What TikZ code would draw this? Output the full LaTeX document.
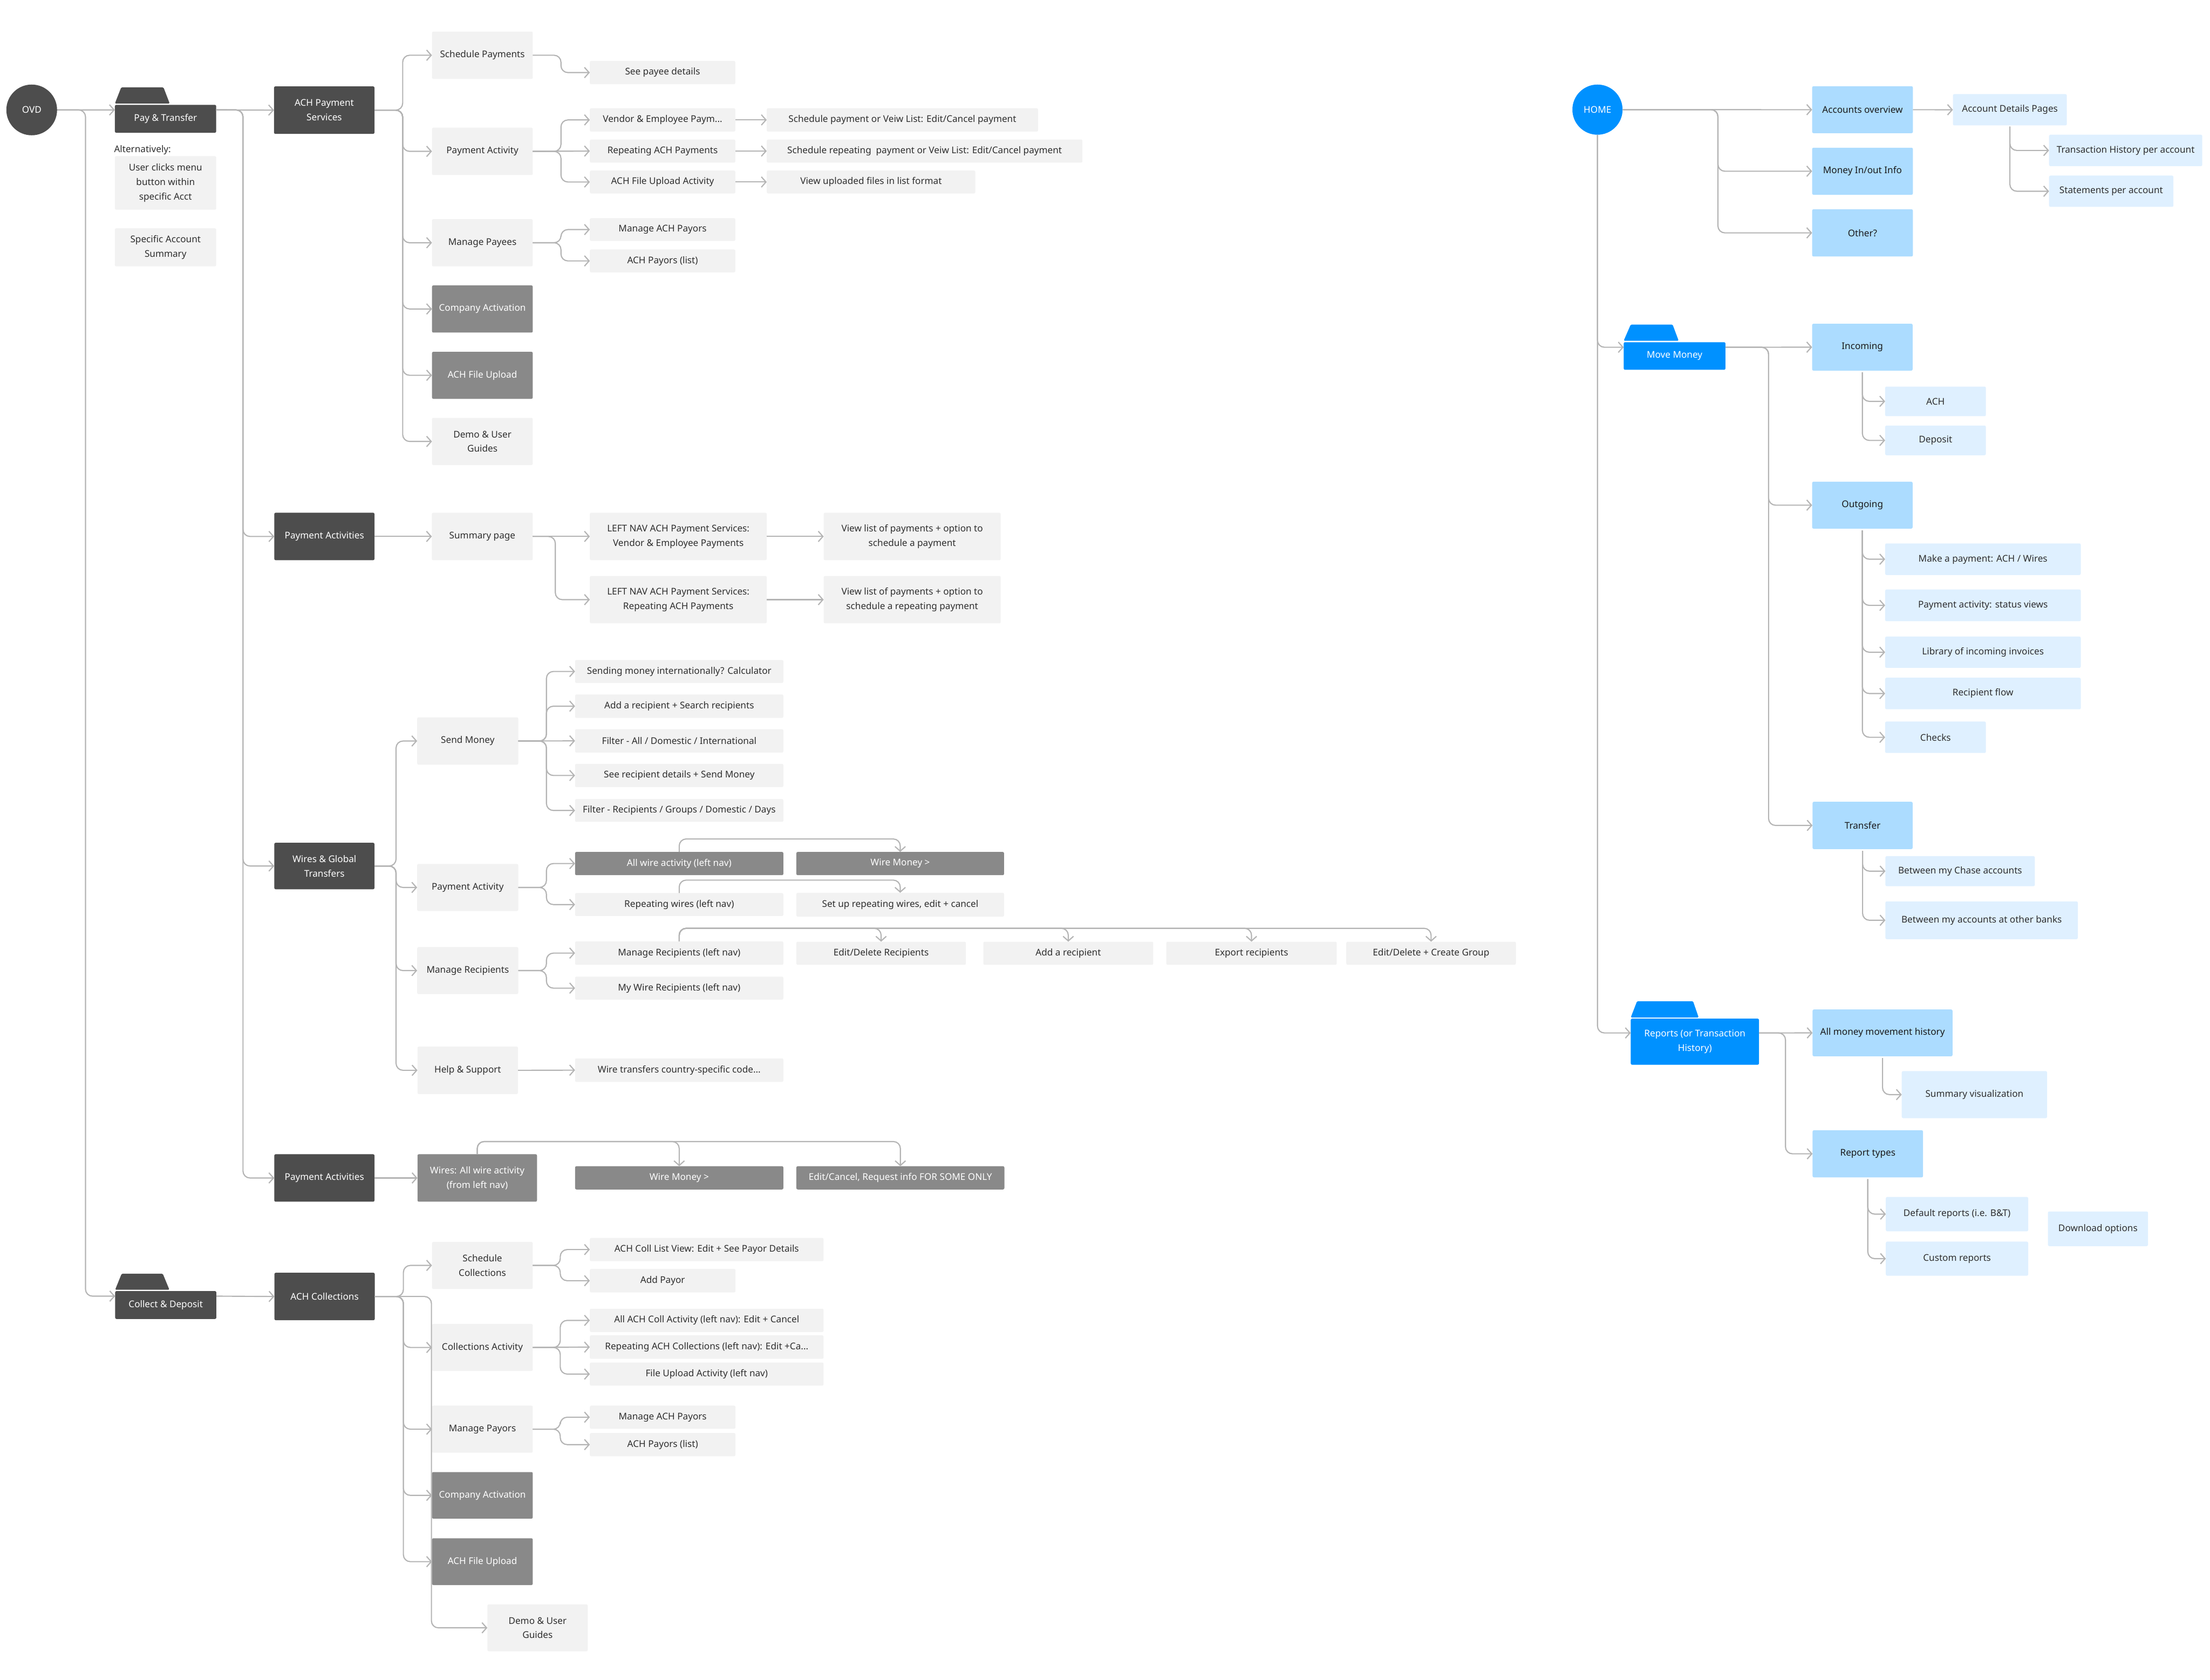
\documentclass[tikz,border=0pt]{standalone}
\usepackage{fontspec}
\setmainfont{Noto Sans}
\usetikzlibrary{arrows.meta,calc}
\definecolor{dk}{HTML}{4D4D4D}
\definecolor{md}{HTML}{898989}
\definecolor{lg}{HTML}{F2F2F2}
\definecolor{tx}{HTML}{2E2E2E}
\definecolor{ln}{HTML}{B4B4B4}
\definecolor{bl}{HTML}{0091FF}
\definecolor{bla}{HTML}{ACDCFF}
\definecolor{blb}{HTML}{DFF0FF}
\newcommand\mybox[7]{\node[#2,minimum width={(#5-#3)*0.042838cm},minimum height={(#6-#4)*0.042838cm}] (#1) at ({(#3+#5)/2},{(#4+#6)/2}) {#7};}
\tikzset{
  base/.style={inner sep=0pt,outer sep=0pt,align=center,anchor=center,rounded corners=1.2pt},
  lbox/.style={base,fill=lg,text=tx},
  dbox/.style={base,fill=dk,text=white},
  mbox/.style={base,fill=md,text=white},
  bbox/.style={base,fill=bla,text=black!90},
  cbox/.style={base,fill=blb,text=tx},
  fbox/.style={base,fill=bl,text=white},
  conn/.style={draw=ln,line width=1pt,rounded corners=6pt,-{Straight Barb[length=4pt,width=9pt]}},
}
\begin{document}
\begin{tikzpicture}[x=0.042838cm,y=-0.042838cm,font=\fontsize{8}{12.5}\selectfont]
\useasboundingbox (0,0) rectangle (1568,1192);
\fill[white] (0,0) rectangle (1568,1192);

% ---------------- left: OVD ----------------
\node[circle,fill=dk,text=white,inner sep=0pt,minimum size={36*0.042838cm}] (ovd) at (22.5,78) {OVD};
\fill[dk,rounded corners=0.8pt] (81.5,73.5) -- (86,62) -- (116,62) -- (120.4,73.5) -- cycle;
\mybox{pt}{dbox}{81.5}{74.4}{153.4}{94.2}{Pay \& Transfer}
\node[anchor=west,inner sep=0pt,text=tx] (alt) at (80.8,106.3) {Alternatively:};
\mybox{ucm}{lbox}{81.5}{110.8}{153.4}{148.8}{User clicks menu\\button within\\specific Acct}
\mybox{sas}{lbox}{81.5}{162}{153.4}{189}{Specific Account\\Summary}

\mybox{achps}{dbox}{194.4}{61.3}{265.7}{95}{ACH Payment\\Services}
\mybox{sp}{lbox}{306.5}{22.4}{378}{56}{Schedule Payments}
\mybox{spd}{lbox}{418.5}{43.2}{521.7}{59.8}{See payee details}
\mybox{pa}{lbox}{306.5}{90.6}{378}{124.2}{Payment Activity}
\mybox{vep}{lbox}{418.5}{76.8}{521.7}{93.4}{Vendor \& Employee Paym...}
\mybox{rap}{lbox}{418.5}{99}{521.7}{115.4}{Repeating ACH Payments}
\mybox{afua}{lbox}{418.5}{121}{521.7}{137.3}{ACH File Upload Activity}
\mybox{spv}{lbox}{544}{76.8}{736.5}{93.4}{Schedule payment or Veiw List: Edit/Cancel payment}
\mybox{srp}{lbox}{544}{99}{768}{115.4}{Schedule repeating\ \ payment or Veiw List: Edit/Cancel payment}
\mybox{vuf}{lbox}{544}{121}{692}{137.3}{View uploaded files in list format}
\mybox{mpy}{lbox}{306.5}{155.5}{378}{189}{Manage Payees}
\mybox{mach}{lbox}{418.5}{154.8}{521.7}{171}{Manage ACH Payors}
\mybox{achl}{lbox}{418.5}{177}{521.7}{193.3}{ACH Payors (list)}
\mybox{ca1}{mbox}{306.5}{202.5}{378}{236}{Company Activation}
\mybox{afu1}{mbox}{306.5}{249.6}{378}{283}{ACH File Upload}
\mybox{dug1}{lbox}{306.5}{296.5}{378}{330}{Demo \& User\\Guides}

\mybox{pa1}{dbox}{194.6}{363.8}{265.7}{397.5}{Payment Activities}
\mybox{smp}{lbox}{306.4}{363.8}{378}{397.5}{Summary page}
\mybox{lnv}{lbox}{418.5}{363.8}{544}{397.5}{LEFT NAV ACH Payment Services:\\Vendor \& Employee Payments}
\mybox{vlp}{lbox}{584.4}{363.8}{710}{397.5}{View list of payments + option to\\schedule a payment}
\mybox{lnr}{lbox}{418.5}{408.7}{544}{442.3}{LEFT NAV ACH Payment Services:\\Repeating ACH Payments}
\mybox{vlr}{lbox}{584.4}{408.7}{710}{442.3}{View list of payments + option to\\schedule a repeating payment}

\mybox{wgt}{dbox}{194.6}{598}{265.7}{631}{Wires \& Global\\Transfers}
\mybox{sm}{lbox}{296}{509}{367.7}{542.6}{Send Money}
\mybox{s1}{lbox}{408}{468.3}{555.8}{484.6}{Sending money internationally? Calculator}
\mybox{s2}{lbox}{408}{492.8}{555.8}{509.4}{Add a recipient + Search recipients}
\mybox{s3}{lbox}{408}{517.4}{555.8}{534}{Filter - All / Domestic / International}
\mybox{s4}{lbox}{408}{542}{555.8}{558.5}{See recipient details + Send Money}
\mybox{s5}{lbox}{408}{567}{555.8}{583.2}{Filter - Recipients / Groups / Domestic / Days}
\mybox{pwa}{lbox}{296}{613}{367.7}{646.4}{Payment Activity}
\mybox{awa}{mbox}{408}{604.5}{555.8}{621}{All wire activity (left nav)}
\mybox{wm1}{mbox}{565}{604.5}{712.4}{621}{Wire Money >}
\mybox{rw}{lbox}{408}{633.7}{555.8}{650}{Repeating wires (left nav)}
\mybox{surw}{lbox}{565}{633.5}{712.4}{650.4}{Set up repeating wires, edit + cancel}
\mybox{mr}{lbox}{296}{672}{367.7}{705.4}{Manage Recipients}
\mybox{mrl}{lbox}{408}{668}{555.8}{684.6}{Manage Recipients (left nav)}
\mybox{mwr}{lbox}{408}{693}{555.8}{709.3}{My Wire Recipients (left nav)}
\mybox{edr}{lbox}{565}{668.2}{685.3}{684.6}{Edit/Delete Recipients}
\mybox{aar}{lbox}{697.7}{668.2}{818.2}{684.6}{Add a recipient}
\mybox{exr}{lbox}{827.5}{668.2}{948.4}{684.6}{Export recipients}
\mybox{edg}{lbox}{955.2}{668.2}{1075.5}{684.6}{Edit/Delete + Create Group}
\mybox{hs}{lbox}{296.2}{742.6}{367.5}{776.3}{Help \& Support}
\mybox{wtc}{lbox}{408}{751}{555.8}{767.7}{Wire transfers country-specific code...}

\mybox{pa2}{dbox}{194.6}{819}{265.7}{852.7}{Payment Activities}
\mybox{wall}{mbox}{296.2}{819}{381}{852.7}{Wires: All wire activity\\(from left nav)}
\mybox{wm2}{mbox}{408}{827.5}{555.8}{844}{Wire Money >}
\mybox{ecr}{mbox}{565}{827.5}{712.6}{844}{Edit/Cancel, Request info FOR SOME ONLY}

\fill[dk,rounded corners=0.8pt] (81.7,915.2) -- (86.3,903.8) -- (115.5,903.8) -- (120.2,915.2) -- cycle;
\mybox{cd}{dbox}{81.7}{916.1}{153.5}{935.9}{Collect \& Deposit}
\mybox{achc}{dbox}{194.7}{903.1}{265.9}{936.8}{ACH Collections}
\mybox{sc}{lbox}{306.5}{881.2}{378}{914.6}{Schedule\\Collections}
\mybox{acl}{lbox}{418.5}{878.4}{584.3}{894.9}{ACH Coll List View: Edit + See Payor Details}
\mybox{ap}{lbox}{418.5}{900.4}{521.8}{917.1}{Add Payor}
\mybox{cact}{lbox}{306.5}{939.4}{378}{972.8}{Collections Activity}
\mybox{aca}{lbox}{418.5}{928.6}{584.3}{945.2}{All ACH Coll Activity (left nav): Edit + Cancel}
\mybox{rac}{lbox}{418.5}{947.5}{584.3}{964.2}{Repeating ACH Collections (left nav): Edit +Ca...}
\mybox{fua}{lbox}{418.5}{966.8}{584.3}{983.2}{File Upload Activity (left nav)}
\mybox{mpo}{lbox}{306.5}{997.4}{378}{1030.8}{Manage Payors}
\mybox{mach2}{lbox}{418.5}{997.4}{521.8}{1013.8}{Manage ACH Payors}
\mybox{achl2}{lbox}{418.5}{1016.8}{521.8}{1033.3}{ACH Payors (list)}
\mybox{ca2}{mbox}{306.5}{1044.5}{378}{1077.6}{Company Activation}
\mybox{afu2}{mbox}{306.5}{1091.5}{378}{1124.7}{ACH File Upload}
\mybox{dug2}{lbox}{345.8}{1138.4}{417}{1171.7}{Demo \& User\\Guides}

% ---------------- right: HOME ----------------
\node[circle,fill=bl,text=white,inner sep=0pt,minimum size={35.6*0.042838cm}] (home) at (1133.4,77.8) {HOME};
\mybox{aov}{bbox}{1285.7}{61.2}{1357.2}{94.5}{Accounts overview}
\mybox{mio}{bbox}{1285.7}{104.8}{1357.2}{138.2}{Money In/out Info}
\mybox{oth}{bbox}{1285.7}{148.5}{1357.2}{182}{Other?}
\mybox{adp}{cbox}{1385.6}{66.8}{1466.4}{89}{Account Details Pages}
\mybox{thp}{cbox}{1453.8}{95.6}{1562.5}{117.9}{Transaction History per account}
\mybox{spa}{cbox}{1453.8}{124.6}{1542}{146.8}{Statements per account}

\fill[bl,rounded corners=0.8pt] (1152,241.8) -- (1157,230.3) -- (1186.7,230.3) -- (1191,241.8) -- cycle;
\mybox{mm}{fbox}{1152}{242.8}{1224.2}{262.4}{Move Money}
\mybox{inc}{bbox}{1285.7}{229.7}{1357}{263}{Incoming}
\mybox{achi}{cbox}{1337.5}{274.3}{1409}{295.3}{ACH}
\mybox{dep}{cbox}{1337.5}{302}{1409}{323}{Deposit}
\mybox{outg}{bbox}{1285.7}{341.8}{1357}{375.1}{Outgoing}
\mybox{o1}{cbox}{1337.5}{385.6}{1476.3}{408}{Make a payment: ACH / Wires}
\mybox{o2}{cbox}{1337.5}{418.3}{1476.3}{440.8}{Payment activity: status views}
\mybox{o3}{cbox}{1337.5}{451.7}{1476.3}{473.9}{Library of incoming invoices}
\mybox{o4}{cbox}{1337.5}{480.9}{1476.3}{503.3}{Recipient flow}
\mybox{o5}{cbox}{1337.5}{512}{1409}{534.3}{Checks}
\mybox{trn}{bbox}{1286}{568.9}{1357}{602.5}{Transfer}
\mybox{bc}{cbox}{1337.7}{607.5}{1443.7}{628.8}{Between my Chase accounts}
\mybox{bo}{cbox}{1337.7}{639.6}{1474.2}{666.4}{Between my accounts at other banks}

\fill[bl,rounded corners=0.8pt] (1157,722) -- (1161.5,710.4) -- (1201.2,710.4) -- (1205.2,722) -- cycle;
\mybox{rep}{fbox}{1157}{722.8}{1248}{755.5}{Reports (or Transaction\\History)}
\mybox{amh}{bbox}{1286}{716.3}{1385.3}{749.5}{All money movement history}
\mybox{sv}{cbox}{1349.3}{760}{1452.4}{793.4}{Summary visualization}
\mybox{rt}{bbox}{1286}{802}{1364.4}{835.4}{Report types}
\mybox{dr}{cbox}{1338}{849.3}{1439}{873.7}{Default reports (i.e. B\&T)}
\mybox{cr}{cbox}{1338}{881}{1439}{905.2}{Custom reports}
\mybox{dl}{cbox}{1453}{859.6}{1524}{884.2}{Download options}

% ---------------- connectors: left ----------------
\draw[conn] (ovd.east) -- ($(pt.west)+(0,-6.3)$);
\draw[conn] (ovd.east) -- ++(20,0) |- ($(cd.west)+(0,-6.3)$);
\draw[conn] ($(pt.east)+(0,-6.3)$) -- (achps.west);
\foreach \t in {pa1,wgt,pa2} \draw[conn] ($(pt.east)+(0,-6.3)$) -- ++(19,0) |- (\t.west);
\foreach \t in {sp,pa,mpy,ca1,afu1,dug1} \draw[conn] (achps.east) -- ++(20,0) |- (\t.west);
\draw[conn] (sp.east) -- ++(20,0) |- (spd.west);
\foreach \t in {vep,afua} \draw[conn] (pa.east) -- ++(20,0) |- (\t.west);
\draw[conn] (pa.east) -- (rap.west);
\draw[conn] (vep.east) -- (spv.west);
\draw[conn] (rap.east) -- (srp.west);
\draw[conn] (afua.east) -- (vuf.west);
\foreach \t in {mach,achl} \draw[conn] (mpy.east) -- ++(20,0) |- (\t.west);

\draw[conn] (pa1.east) -- (smp.west);
\draw[conn] (smp.east) -- (lnv.west);
\draw[conn] (smp.east) -- ++(16,0) |- (lnr.west);
\draw[conn] (lnv.east) -- (vlp.west);
\draw[conn] (lnr.east) -- (vlr.west);

\foreach \t in {sm,pwa,mr,hs} \draw[conn] (wgt.east) -- ++(15.3,0) |- (\t.west);
\foreach \t in {s1,s2,s4,s5} \draw[conn] (sm.east) -- ++(20,0) |- (\t.west);
\draw[conn] (sm.east) -- (s3.west);
\foreach \t in {awa,rw} \draw[conn] (pwa.east) -- ++(20,0) |- (\t.west);
\foreach \t in {mrl,mwr} \draw[conn] (mr.east) -- ++(20,0) |- (\t.west);
\draw[conn] (awa.north) -- ++(0,-9.2) -| (wm1.north);
\draw[conn] (rw.north) -- ++(0,-9.2) -| (surw.north);
\foreach \t in {edr,aar,exr,edg} \draw[conn] (mrl.north) -- ++(0,-9.3) -| (\t.north);
\draw[conn] (hs.east) -- (wtc.west);

\draw[conn] (pa2.east) -- (wall.west);
\foreach \t in {wm2,ecr} \draw[conn] (wall.north) -- ++(0,-9) -| (\t.north);

\draw[conn] ($(cd.east)+(0,-6.3)$) -- (achc.west);
\foreach \t in {sc,cact,mpo,ca2,afu2} \draw[conn] (achc.east) -- ++(20.3,0) |- (\t.west);
\draw[conn] (achc.east) -- ++(40.2,0) |- (dug2.west);
\foreach \t in {acl,ap} \draw[conn] (sc.east) -- ++(19.5,0) |- (\t.west);
\foreach \t in {aca,fua} \draw[conn] (cact.east) -- ++(19.5,0) |- (\t.west);
\draw[conn] (cact.east) -- (rac.west);
\foreach \t in {mach2,achl2} \draw[conn] (mpo.east) -- ++(19.5,0) |- (\t.west);

% ---------------- connectors: right ----------------
\draw[conn] (home.east) -- (aov.west);
\foreach \t in {mio,oth} \draw[conn] (home.east) -- ++(67.5,0) |- (\t.west);
\draw[conn] (aov.east) -- (adp.west);
\foreach \t in {thp,spa} \draw[conn] ([yshift=-1pt]adp.south) |- (\t.west);
\draw[conn] (home.south) |- ($(mm.west)+(0,-6.2)$);
\draw[conn] (home.south) |- ($(rep.west)+(0,-6.2)$);
\draw[conn] ($(mm.east)+(0,-6.2)$) -- (inc.west);
\foreach \t in {outg,trn} \draw[conn] ($(mm.east)+(0,-6.2)$) -- ++(30.6,0) |- (\t.west);
\foreach \t in {achi,dep} \draw[conn] ([yshift=-1.5pt]inc.south) |- (\t.west);
\foreach \t in {o1,o2,o3,o4,o5} \draw[conn] ([yshift=-1.5pt]outg.south) |- (\t.west);
\foreach \t in {bc,bo} \draw[conn] ([yshift=-1.5pt]trn.south) |- (\t.west);
\draw[conn] ($(rep.east)+(0,-6.2)$) -- (amh.west);
\draw[conn] ($(rep.east)+(0,-6.2)$) -- ++(18.8,0) |- (rt.west);
\draw[conn] ([yshift=-1.5pt]amh.south) |- (sv.west);
\foreach \t in {dr,cr} \draw[conn] ([yshift=-1.5pt]rt.south) |- (\t.west);
\end{tikzpicture}
\end{document}
